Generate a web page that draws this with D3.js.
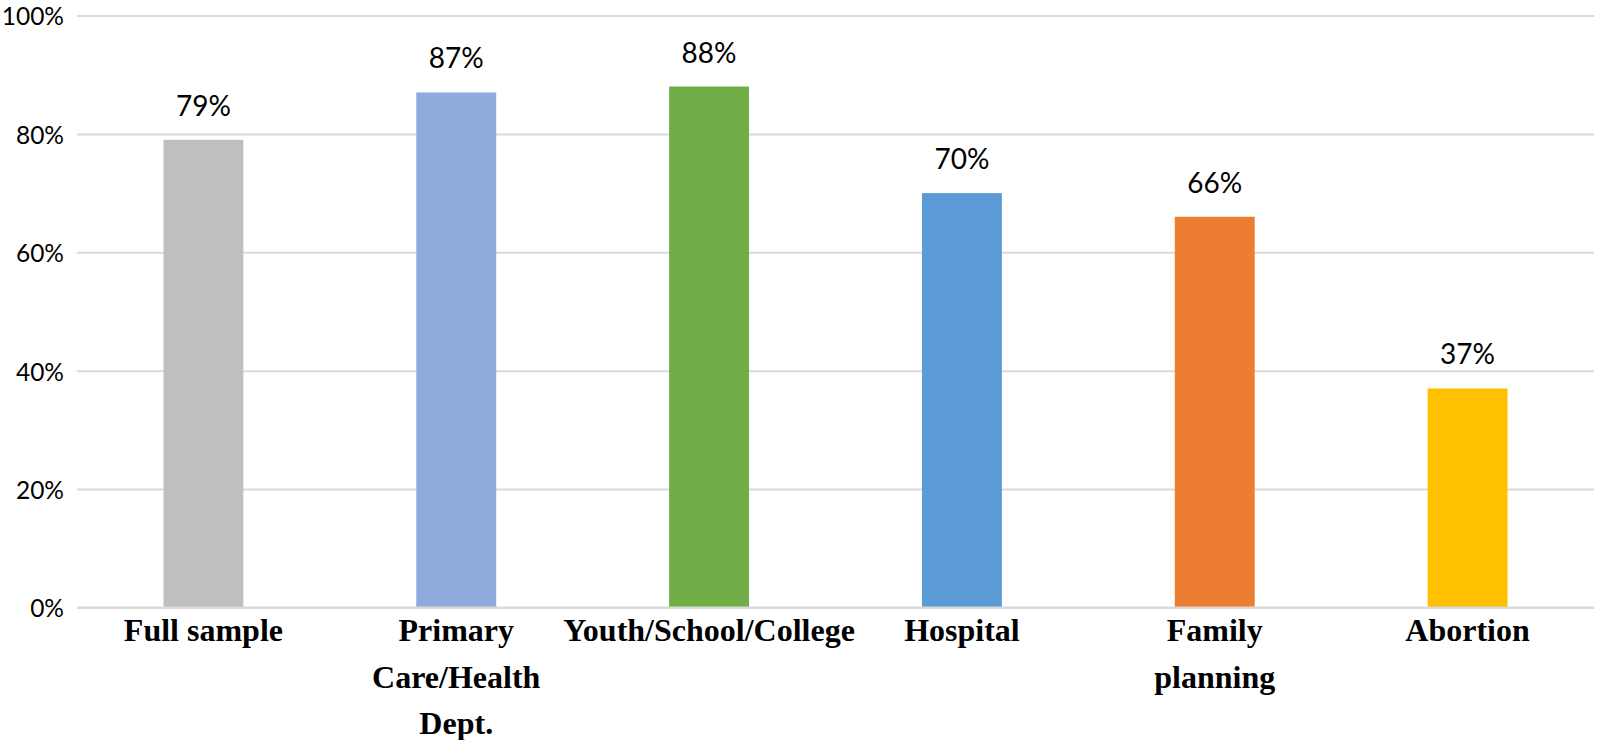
<!DOCTYPE html>
<html>
<head>
<meta charset="utf-8">
<script src="https://cdn.jsdelivr.net/npm/d3@7"></script>
<style>
  html, body { margin: 0; padding: 0; background: #fff; }
  svg { display: block; }
</style>
</head>
<body>
<svg id="chart" width="1600" height="740"></svg>
<script>
// ---- data ----
const categories = ["Full sample", "Primary Care/Health Dept.", "Youth/School/College", "Hospital", "Family planning", "Abortion"];
const categoryLines = [["Full sample"], ["Primary", "Care/Health", "Dept."], ["Youth/School/College"], ["Hospital"], ["Family", "planning"], ["Abortion"]];
const values = [79, 87, 88, 70, 66, 37];
const barColors = ["#BFBFBF", "#8FAADC", "#70AD47", "#5B9BD5", "#ED7D31", "#FFC000"];
const yTicks = [0, 20, 40, 60, 80, 100];

// ---- layout ----
const svg = d3.select("#chart");
const plot = { left: 77, right: 1594, top: 15.5, bottom: 607.5 };

const x = d3.scaleBand()
  .domain(categories)
  .range([plot.left, plot.right])
  .paddingInner(0.684)
  .paddingOuter(0.342);

const y = d3.scaleLinear().domain([0, 100]).range([plot.bottom, plot.top]);

// gridlines + tick labels
const yAxis = d3.axisLeft(y).tickValues(yTicks).tickSize(-(plot.right - plot.left)).tickFormat(d => d + "%");
const gy = svg.append("g")
  .attr("transform", `translate(${plot.left},0)`)
  .call(yAxis);
gy.select(".domain").remove();
gy.selectAll(".tick line").attr("stroke", "#D9D9D9").attr("stroke-width", 2);
gy.selectAll(".tick text")
  .attr("x", -13)
  .attr("dy", "0.38em")
  .attr("fill", "#000")
  .style("font-family", "Lato, 'Open Sans', sans-serif")
  .style("font-size", "24.5px");

// bars
svg.append("g").selectAll("rect")
  .data(values)
  .join("rect")
  .attr("x", (d, i) => x(categories[i]))
  .attr("width", x.bandwidth())
  .attr("y", d => y(d))
  .attr("height", d => y(0) - y(d))
  .attr("fill", (d, i) => barColors[i]);

// baseline on top of bars
svg.append("line")
  .attr("x1", plot.left).attr("x2", plot.right)
  .attr("y1", y(0)).attr("y2", y(0))
  .attr("stroke", "#D9D9D9").attr("stroke-width", 2);

// data labels
svg.append("g").selectAll("text")
  .data(values)
  .join("text")
  .attr("x", (d, i) => x(categories[i]) + x.bandwidth() / 2)
  .attr("y", d => y(d) - 24)
  .attr("text-anchor", "middle")
  .style("font-family", "Lato, 'Open Sans', sans-serif")
  .style("font-size", "28px")
  .attr("fill", "#000")
  .text(d => d + "%");

// category labels
const xl = svg.append("g").selectAll("text")
  .data(categories)
  .join("text")
  .attr("x", d => x(d) + x.bandwidth() / 2)
  .attr("y", 641)
  .attr("text-anchor", "middle")
  .style("font-family", "'Liberation Serif', 'Times New Roman', serif")
  .style("font-weight", "bold")
  .style("font-size", "32px")
  .attr("fill", "#000");
xl.each(function(d, i) {
  const t = d3.select(this);
  categoryLines[i].forEach((line, j) => {
    t.append("tspan")
      .attr("x", x(d) + x.bandwidth() / 2)
      .attr("dy", j === 0 ? 0 : 46.5)
      .text(line);
  });
});
</script>
</body>
</html>
